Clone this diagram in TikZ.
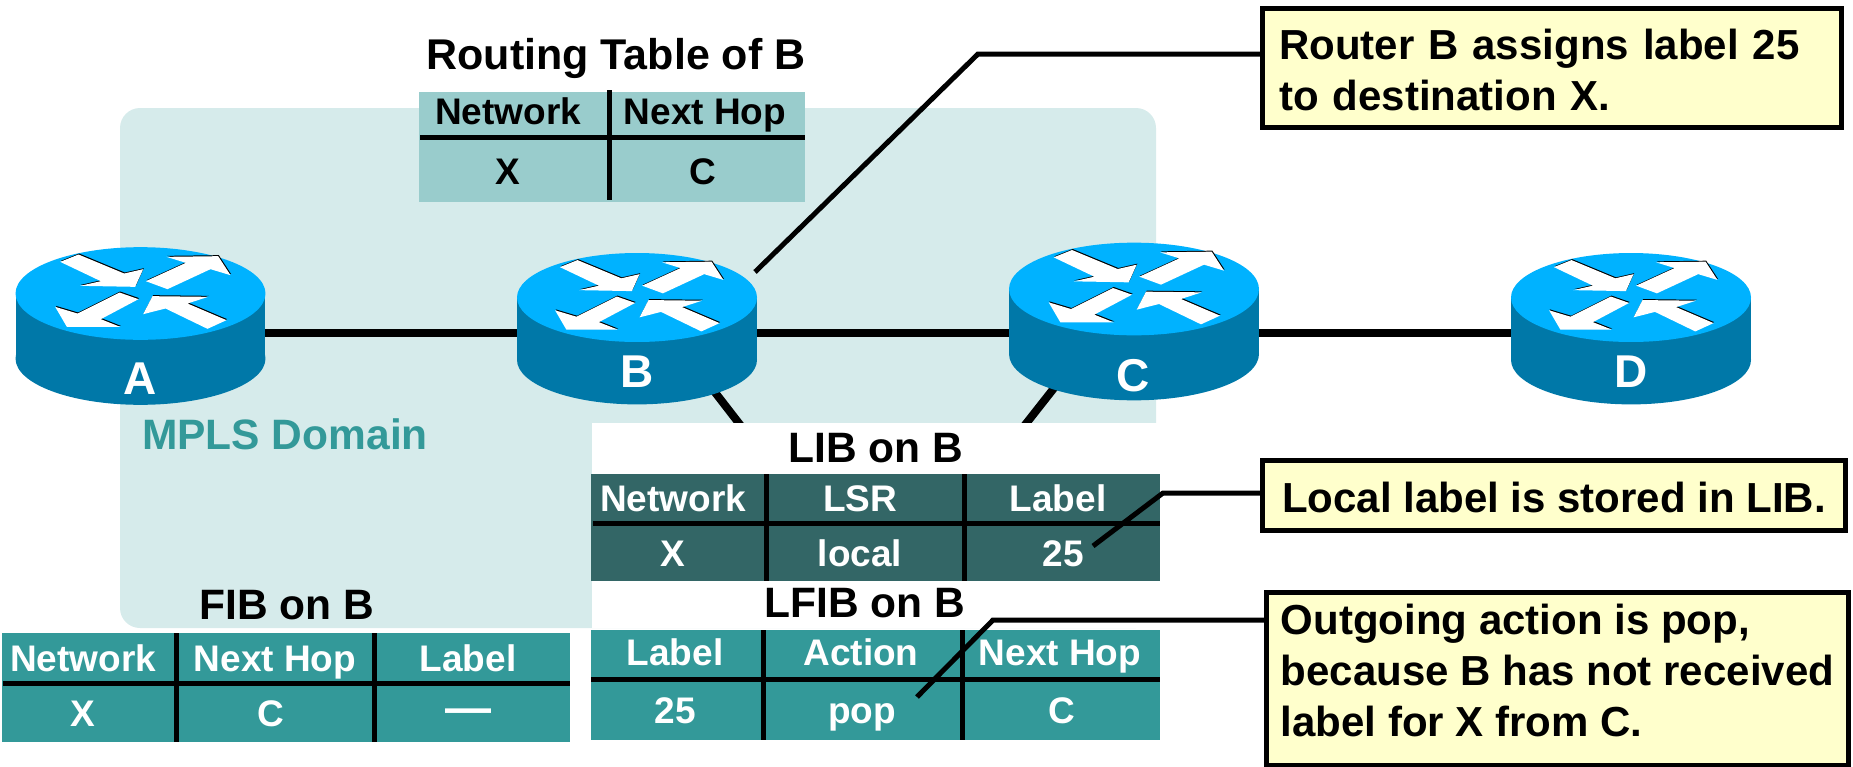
\documentclass[tikz,border=0pt]{standalone}
\usepackage{fontspec}
\setmainfont{Liberation Sans}
\definecolor{domainfill}{HTML}{D6EBEB}
\definecolor{routertop}{HTML}{00B2FF}
\definecolor{routerside}{HTML}{0078A8}
\definecolor{tealtable}{HTML}{339999}
\definecolor{lighttable}{HTML}{99CCCC}
\definecolor{darktable}{HTML}{336666}
\definecolor{calloutfill}{HTML}{FFFFCC}
\def\arrowone{(-241,-95) -- (-186,-117) -- (-49,-60) -- (8,-73) -- (-16,-20) -- (-181,-23) -- (-119,-37) -- cycle}
\def\arrowtwo{(16,-37) -- (136,-92) -- (78,-110) -- (233,-112) -- (270,-55) -- (210,-73) -- (81,-13) -- cycle}
\def\arrowthree{(-6,17) -- (-63,-3) -- (-189,60) -- (-256,40) -- (-221,100) -- (-61,100) -- (-119,77) -- cycle}
\def\arrowfour{(258,80) -- (201,106) -- (75,45) -- (8,62) -- (36,8) -- (203,10) -- (141,30) -- cycle}
\tikzset{
	pics/router/.style={code={
		\fill[routerside] (0,195) ellipse [x radius=375pt, y radius=139pt];
		\fill[routerside] (-375,0) rectangle (375,195);
		\fill[routertop] (0,0) ellipse [x radius=375pt, y radius=139pt];
		\fill[black, shift={(2,-3)}] \arrowone \arrowtwo \arrowthree \arrowfour;
		\fill[white] \arrowone \arrowtwo \arrowthree \arrowfour;
	}},
	link/.style={line width=8pt},
	tableline/.style={line width=5pt},
	callline/.style={line width=5pt},
	routerlabel/.style={font=\bfseries\fontsize{46}{46}\selectfont, text=white, anchor=base, inner sep=0pt},
	tabletitle/.style={font=\bfseries\fontsize{42.5}{42.5}\selectfont, anchor=base, inner sep=0pt},
	cell/.style={font=\bfseries\fontsize{37}{37}\selectfont, text=white, anchor=base, inner sep=0pt},
	darkcell/.style={cell, text=black},
	callout/.style={draw, line width=5pt, fill=calloutfill, anchor=north west, align=left,
		font=\bfseries\fontsize{42}{51}\selectfont, inner ysep=0pt, inner xsep=0pt},
}
\begin{document}
\begin{tikzpicture}[x=1pt, y=-1pt]
	\useasboundingbox (0,0) rectangle (1853,766);

	% domain
	\fill[domainfill, rounded corners=20pt] (120,108) rectangle (1156,628);
	\node[tabletitle, text=tealtable] (domain) at (285,449) {MPLS Domain};

	% links, the lower two end behind the white block
	\coordinate (portA) at (140,333);
	\coordinate (portB) at (637,333);
	\coordinate (portC) at (1134,333);
	\coordinate (portD) at (1631,333);
	\coordinate (backB) at (683,351);
	\coordinate (hiddenB) at (755,444);
	\coordinate (backC) at (1084,350);
	\coordinate (hiddenC) at (1010,444);
	\draw[link] (portA) -- (portB) -- (portC) -- (portD);
	\draw[link] (backB) -- (hiddenB);
	\draw[link] (backC) -- (hiddenC);

	% routers
	\pic[scale=.3333] at (140.5,293.5) {router};
	\pic[scale=.32] at (637,297.5) {router};
	\pic[scale=.3333] at (1134,289) {router};
	\pic[scale=.32] at (1631,297.5) {router};
	\node[routerlabel] (A) at (140,394) {A};
	\node[routerlabel] (B) at (637,387) {B};
	\node[routerlabel] (C) at (1133,391) {C};
	\node[routerlabel] (D) at (1631,387) {D};

	% routing table
	\node[tabletitle, font=\bfseries\fontsize{43}{43}\selectfont] (rtTitle) at (616,69) {Routing Table of B};
	\fill[lighttable] (419,92) rectangle (805,202);
	\draw[tableline] (420,137) -- (805,137);
	\draw[tableline] (609,90) -- (609,200);
	\node[darkcell] (rtNetwork) at (508,124) {Network};
	\node[darkcell] (rtHop) at (705,124) {Next Hop};
	\node[darkcell] (rtX) at (508,184) {X};
	\node[darkcell] (rtC) at (703,184) {C};

	% white block under LIB and LFIB
	\fill[white] (592,423) rectangle (1160,628);

	% LIB
	\node[tabletitle] (libTitle) at (876,462) {LIB on B};
	\fill[darktable] (591,474) rectangle (1160,581);
	\draw[tableline] (593,523) -- (1160,523);
	\draw[tableline] (766,474) -- (766,581);
	\draw[tableline] (964,474) -- (964,581);
	\node[cell] (libNetwork) at (673,511) {Network};
	\node[cell] (libLsr) at (860,511) {LSR};
	\node[cell] (libLabel) at (1058,511) {Label};
	\node[cell] (libX) at (673,566) {X};
	\node[cell] (libLocal) at (860,566) {local};
	\node[cell] (libValue) at (1063,566) {25};

	% LFIB
	\node[tabletitle] (lfibTitle) at (865,617) {LFIB on B};
	\fill[tealtable] (591,630) rectangle (1160,740);
	\draw[tableline] (591,679) -- (1160,679);
	\draw[tableline] (763,630) -- (763,740);
	\draw[tableline] (962,630) -- (962,740);
	\node[cell] (lfibLabel) at (675,665) {Label};
	\node[cell] (lfibAction) at (861,665) {Action};
	\node[cell] (lfibHop) at (1060,665) {Next Hop};
	\node[cell] (lfibValue) at (675,723) {25};
	\node[cell] (lfibPop) at (862,723) {pop};
	\node[cell] (lfibC) at (1062,723) {C};

	% FIB
	\node[tabletitle] (fibTitle) at (287,619) {FIB on B};
	\fill[tealtable] (2,633) rectangle (570,742);
	\draw[tableline] (3,683) -- (570,683);
	\draw[tableline] (176,633) -- (176,742);
	\draw[tableline] (374,633) -- (374,742);
	\node[cell] (fibNetwork) at (83,671) {Network};
	\node[cell] (fibHop) at (275,671) {Next Hop};
	\node[cell] (fibLabel) at (468,671) {Label};
	\node[cell] (fibX) at (83,726) {X};
	\node[cell] (fibC) at (271,726) {C};
	\node[cell, font=\bfseries\fontsize{46}{46}\selectfont] (fibNone) at (468,723) {—};

	% callouts
	\node[callout, inner xsep=16.5pt, text width=546pt, minimum height=119pt] (callA) at (1260,6) {\rule{0pt}{35pt}Router B assigns label 25\\to destination X.};
	\node[callout, minimum width=583pt, minimum height=70pt] (callB) at (1260,458) {\rule{0pt}{35pt}Local label is stored in LIB.};
	\node[callout, minimum width=582pt, minimum height=173pt] (callC) at (1264,590) {Outgoing action is pop,\\because B has not received\\label for X from C.\rule[-17pt]{0pt}{17pt}};

	\coordinate (routerEnd) at (755,272);
	\coordinate (routerBend) at (978,54);
	\coordinate (libEnd) at (1093,546);
	\coordinate (libBend) at (1163,493);
	\coordinate (lfibEnd) at (917,697);
	\coordinate (lfibBend) at (993,620);
	\draw[callline] (routerEnd) -- (routerBend) -- (routerBend -| callA.west);
	\draw[callline] (libEnd) -- (libBend) -- (libBend -| callB.west);
	\draw[callline] (lfibEnd) -- (lfibBend) -- (lfibBend -| callC.west);
\end{tikzpicture}
\end{document}
